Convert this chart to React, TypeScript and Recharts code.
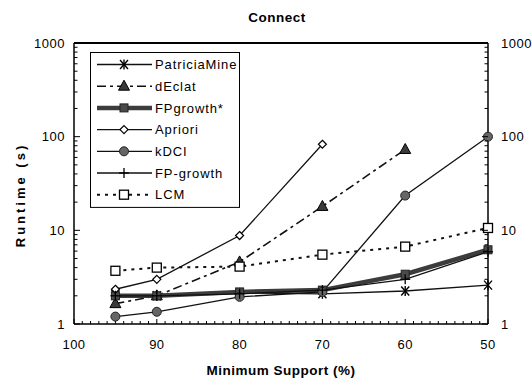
import { Line, LineChart, ReferenceLine, XAxis, YAxis } from 'recharts';

// ----------------------------------------------------------------------

const supportLevels = [95, 90, 80, 70, 60, 50];

const patriciaMine = [2.05, 2.0, 2.15, 2.1, 2.25, 2.6];
const dEclat = [1.65, 2.0, 4.6, 18, 73, null];
const fpGrowthStar = [2.0, 2.0, 2.2, 2.3, 3.4, 6.2];
const apriori = [2.35, 3.0, 8.8, 83, null, null];
const kdci = [1.2, 1.35, 1.95, 2.2, 23.5, 100];
const fpGrowth = [2.0, 2.0, 2.1, 2.3, 3.0, 5.9];
const lcm = [3.7, 4.0, 4.1, 5.5, 6.7, 10.6];

const majorXTicks = [100, 90, 80, 70, 60, 50];
const majorYTicks = [1, 10, 100, 1000];

// every integer support level gets a small tick, every 1..9 x 10^k a log tick
const xTicks = Array.from({ length: 51 }, (_, i) => 100 - i);
const yTicks = [1, 10, 100].flatMap(d => [1, 2, 3, 4, 5, 6, 7, 8, 9].map(m => m * d)).concat(1000);

const FONT = '"Liberation Sans", Arial, Helvetica, sans-serif';
const LEGEND_ROW = 21.7;

type MarkerShape = 'star' | 'triangle' | 'square' | 'diamond' | 'circle' | 'plus' | 'openSquare';

interface SeriesDef {
  key: string;
  values: (number | null)[];
  stroke: string;
  width: number;
  dash?: string;
  marker: MarkerShape;
}

const series: SeriesDef[] = [
  { key: 'PatriciaMine', values: patriciaMine, stroke: '#111', width: 1.3, marker: 'star' },
  { key: 'dEclat', values: dEclat, stroke: '#111', width: 1.6, dash: '9 4 3 4', marker: 'triangle' },
  { key: 'FPgrowth*', values: fpGrowthStar, stroke: '#3c3c3c', width: 4.5, marker: 'square' },
  { key: 'Apriori', values: apriori, stroke: '#111', width: 1.3, marker: 'diamond' },
  { key: 'kDCI', values: kdci, stroke: '#111', width: 1.3, marker: 'circle' },
  { key: 'FP-growth', values: fpGrowth, stroke: '#111', width: 1.3, marker: 'plus' },
  { key: 'LCM', values: lcm, stroke: '#111', width: 2, dash: '3 5', marker: 'openSquare' },
];

const data = supportLevels.map((support, i) => {
  const row: Record<string, number | null> = { support };
  series.forEach(s => {
    row[s.key] = s.values[i];
  });
  return row;
});

// ----------------------------------------------------------------------

function Marker({ shape, cx, cy }: { shape: MarkerShape; cx: number; cy: number }) {
  switch (shape) {
    case 'star':
      return (
        <g stroke='#000' strokeWidth={1.4}>
          <line x1={cx - 4} y1={cy - 4.5} x2={cx + 4} y2={cy + 4.5} />
          <line x1={cx - 4} y1={cy + 4.5} x2={cx + 4} y2={cy - 4.5} />
          <line x1={cx} y1={cy - 5} x2={cx} y2={cy + 5} />
        </g>
      );
    case 'triangle':
      return (
        <polygon
          points={`${cx},${cy - 6} ${cx - 5.5},${cy + 4} ${cx + 5.5},${cy + 4}`}
          fill='#3a3a3a'
          stroke='#000'
          strokeWidth={1}
        />
      );
    case 'square':
      return <rect x={cx - 4} y={cy - 4} width={8} height={8} fill='#4a4a4a' stroke='#222' strokeWidth={1} />;
    case 'diamond':
      return (
        <polygon
          points={`${cx},${cy - 4} ${cx + 4},${cy} ${cx},${cy + 4} ${cx - 4},${cy}`}
          fill='#fff'
          stroke='#000'
          strokeWidth={1.2}
        />
      );
    case 'circle':
      return <circle cx={cx} cy={cy} r={4.5} fill='#666' stroke='#222' strokeWidth={1} />;
    case 'plus':
      return (
        <g stroke='#000' strokeWidth={1.3}>
          <line x1={cx - 5} y1={cy} x2={cx + 5} y2={cy} />
          <line x1={cx} y1={cy - 5} x2={cx} y2={cy + 5} />
        </g>
      );
    default:
      return <rect x={cx - 4.5} y={cy - 4.5} width={9} height={9} fill='#fff' stroke='#000' strokeWidth={1.3} />;
  }
}

const renderDot = (shape: MarkerShape) => (props: any) => {
  const { cx, cy, index } = props;
  if (cx == null || cy == null || props.value == null) return <g key={`dot-${index}`} />;
  return (
    <g key={`dot-${index}`}>
      <Marker shape={shape} cx={cx} cy={cy} />
    </g>
  );
};

const XTick = ({ x, y, payload }: any) => {
  const major = majorXTicks.includes(payload.value);
  return (
    <g>
      <line x1={x} x2={x} y1={y} y2={y - (major ? 5 : 3)} stroke='#000' strokeWidth={1} />
      {major && (
        <text x={x} y={y + 25} textAnchor='middle' fontSize={13} letterSpacing={0.4} fill='#000'>
          {payload.value}
        </text>
      )}
    </g>
  );
};

const YTick = ({ x, y, payload, side }: any) => {
  const major = majorYTicks.includes(payload.value);
  const dir = side === 'left' ? 1 : -1;
  return (
    <g>
      <line x1={x} x2={x + dir * (major ? 6 : 3.5)} y1={y} y2={y} stroke='#000' strokeWidth={1} />
      {major && (
        <text
          x={side === 'left' ? x - 9 : x + 13}
          y={y + 4.6}
          textAnchor={side === 'left' ? 'end' : 'start'}
          fontSize={13}
          letterSpacing={0.5}
          fill='#000'
        >
          {payload.value}
        </text>
      )}
    </g>
  );
};

// boxed legend drawn straight into the chart svg, top-left inside the plot
const LegendBox = ({ x, y }: { x: number; y: number }) => {
  const h = series.length * LEGEND_ROW + 3;
  return (
    <g transform={`translate(${x}, ${y})`}>
      <rect x={0.5} y={0.5} width={149} height={h} fill='#fff' stroke='#000' strokeWidth={1} />
      {series.map((s, i) => {
        const cy = 12.5 + i * LEGEND_ROW;
        return (
          <g key={s.key}>
            <line x1={7} x2={62} y1={cy} y2={cy} stroke={s.stroke} strokeWidth={s.width} strokeDasharray={s.dash} />
            <Marker shape={s.marker} cx={34} cy={cy} />
            <text x={65} y={cy + 4.7} fontSize={13} letterSpacing={0.9} fill='#000'>
              {s.key}
            </text>
          </g>
        );
      })}
    </g>
  );
};

export default function App() {
  return (
    <div style={{ position: 'absolute', left: 0, top: 0, width: 532, height: 378, background: '#fff' }}>
      <LineChart
        width={532}
        height={378}
        data={data}
        margin={{ top: 43, right: 4, bottom: 0, left: 0 }}
        style={{ fontFamily: FONT }}
      >
        <text x={277} y={22} textAnchor='middle' fontSize={13.5} fontWeight='bold' letterSpacing={0.5} fill='#000'>
          Connect
        </text>
        <text
          x={20}
          y={195}
          transform='rotate(-90, 20, 195)'
          textAnchor='middle'
          dy='0.35em'
          fontSize={13}
          fontWeight='bold'
          letterSpacing={3}
          fill='#000'
        >
          Runtime (s)
        </text>
        <XAxis
          dataKey='support'
          type='number'
          domain={[50, 100]}
          reversed
          ticks={xTicks}
          interval={0}
          height={54}
          tickSize={0}
          tickMargin={0}
          tickLine={false}
          tick={<XTick />}
          axisLine={{ stroke: '#000', strokeWidth: 1.5 }}
          label={{
            value: 'Minimum Support (%)',
            position: 'insideBottom',
            offset: 3,
            fontSize: 13.5,
            fontWeight: 'bold',
            fill: '#000',
            letterSpacing: 0.5,
          }}
        />
        <YAxis
          yAxisId='left'
          type='number'
          scale='log'
          domain={[1, 1000]}
          allowDataOverflow
          ticks={yTicks}
          interval={0}
          width={74}
          tickSize={0}
          tickMargin={0}
          tickLine={false}
          tick={<YTick side='left' />}
          axisLine={{ stroke: '#000', strokeWidth: 1.5 }}
        />
        <YAxis
          yAxisId='right'
          orientation='right'
          type='number'
          scale='log'
          domain={[1, 1000]}
          allowDataOverflow
          ticks={yTicks}
          interval={0}
          width={40}
          tickSize={0}
          tickMargin={0}
          tickLine={false}
          tick={<YTick side='right' />}
          axisLine={{ stroke: '#000', strokeWidth: 1.5 }}
        />
        <ReferenceLine y={1000} yAxisId='left' stroke='#000' strokeWidth={2} ifOverflow='visible' />
        {series.map(s => (
          <Line
            key={s.key}
            yAxisId='left'
            dataKey={s.key}
            name={s.key}
            type='linear'
            stroke={s.stroke}
            strokeWidth={s.width}
            strokeDasharray={s.dash}
            dot={renderDot(s.marker)}
            activeDot={false}
            isAnimationActive={false}
          />
        ))}
        <LegendBox x={90} y={52} />
      </LineChart>
    </div>
  );
}
